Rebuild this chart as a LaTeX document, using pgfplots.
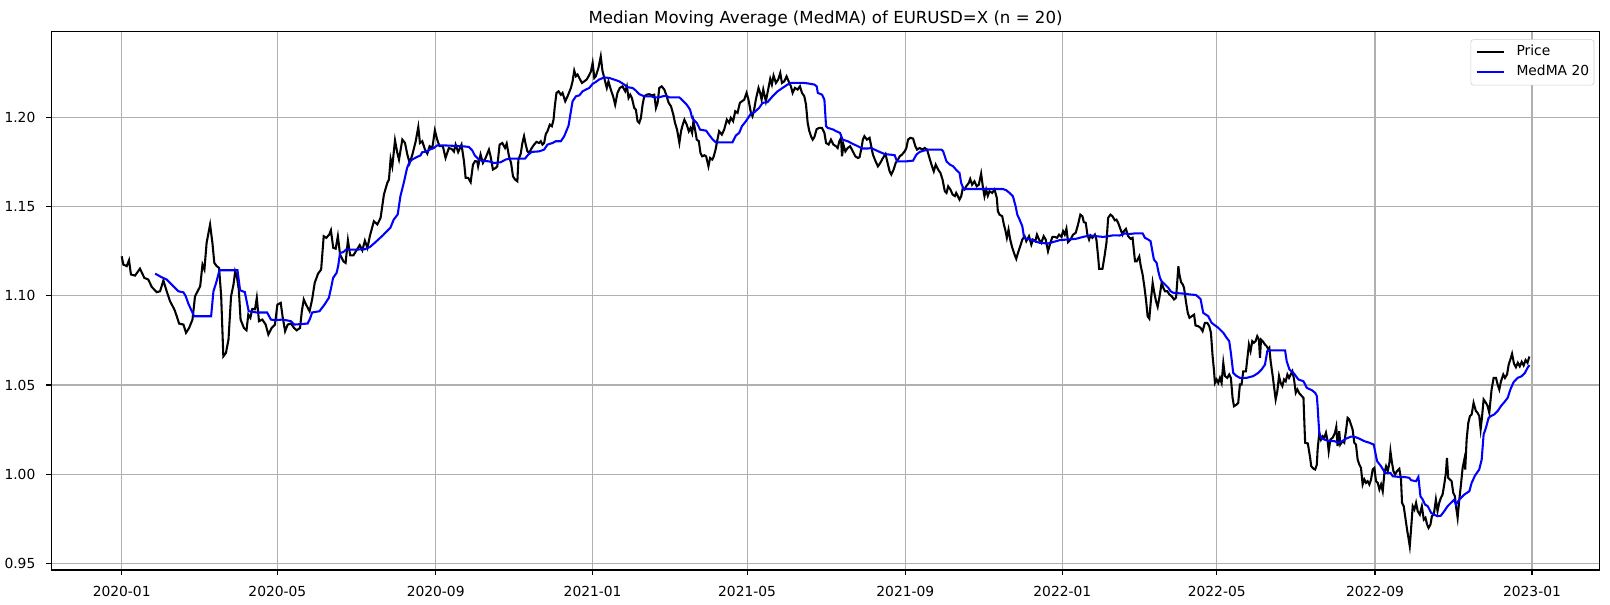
\documentclass[border=0pt]{standalone}
\usepackage{fontspec}
\setmainfont{DejaVu Sans}
\usepackage{pgfplots}
\pgfplotsset{compat=1.18}
\definecolor{gridgray}{HTML}{B0B0B0}
\definecolor{legendgray}{HTML}{CCCCCC}
\begin{document}
\begin{tikzpicture}
\useasboundingbox (-0.513in,-0.35in) rectangle (15.587in,5.70in);
\begin{axis}[
  at={(0,0)}, anchor=south west, scale only axis,
  width=15.485in, height=5.382in,
  xmin=-54.7, xmax=1148.7, ymin=0.9462, ymax=1.2482,
  xtick={0,121,244,366,486,609,731,851,974,1096},
  xticklabels={2020-01,2020-05,2020-09,2021-01,2021-05,2021-09,2022-01,2022-05,2022-09,2023-01},
  ytick={0.95,1.00,1.05,1.10,1.15,1.20},
  yticklabel style={xshift=-4.5pt, /pgf/number format/.cd, fixed, fixed zerofill, precision=2},
  xticklabel style={yshift=-4.5pt},
  /pgf/number format/assume math mode=true,
  tick label style={font=\fontsize{10}{12}\selectfont},
  grid=major, grid style={gridgray, line width=0.8pt},
  tick align=outside, major tick length=3.5pt,
  tick style={black, line width=0.8pt},
  xtick pos=bottom, ytick pos=left,
  axis line style={line width=0.8pt},
  title={Median Moving Average (MedMA) of EURUSD=X (n = 20)},
  title style={font=\fontsize{12}{14.4}\selectfont, anchor=base, inner sep=0pt},
  legend style={at={(1,1)}, anchor=north east, xshift=-4pt, yshift=-5.4pt,
    draw=legendgray, rounded corners=2pt, font=\fontsize{10}{12}\selectfont,
    inner xsep=3.5pt, inner ysep=4.3pt, row sep=4.4pt, column sep=8pt,
    nodes={inner sep=0pt, text height=7.5pt, text depth=2.5pt},
    cells={anchor=west}},
  legend cell align=left,
  legend image code/.code={\draw[#1] (0pt,0pt) -- (20pt,0pt);},
]
\addplot[black, line width=1.5pt] coordinates {
(0,1.1222)(1.3,1.1176)(3.9,1.1167)(5.7,1.1200)(7.2,1.1120)(10.4,1.1114)(14.2,1.1153)(17.6,1.1101)(20.7,1.1092)(23.3,1.1051)
(27.2,1.1021)(29.8,1.1026)(32.4,1.1086)(35,1.1026)(37.6,1.0970)(41,1.0923)(42.8,1.0886)(44.6,1.0845)(48,1.0839)(50,1.0793)
(52.4,1.0820)(55,1.0867)(57,1.0998)(61,1.1054)(62.8,1.1176)(64.3,1.1148)(66,1.1298)(68.7,1.1400)(70.5,1.1298)(72,1.1185)
(74,1.1166)(75.7,1.1157)(77.3,1.1000)(79,1.0661)(81,1.0680)(83,1.0755)(85,1.0998)(86.9,1.1064)(88.2,1.1138)(89.5,1.1110)
(91,1.1036)(92.4,1.0867)(95,1.0820)(97,1.0807)(98.4,1.0895)(100,1.0877)(101.5,1.0927)(103.6,1.0925)(105,1.0989)(106.7,1.0858)
(109.3,1.0867)(111.9,1.0839)(114,1.0783)(116.5,1.0820)(119.1,1.0839)(121,1.0951)(123.6,1.0961)(125,1.0886)(127,1.0802)(129,1.0839)
(131.5,1.0845)(134,1.0820)(136,1.0807)(138.6,1.0820)(140,1.0914)(141.5,1.0980)(143.3,1.0951)(146,1.0914)(148,1.0980)(150,1.1073)
(152.6,1.1125)(155,1.1148)(157,1.1335)(159,1.1326)(161.3,1.1344)(162.6,1.1368)(164.4,1.1270)(166.3,1.1265)(168,1.1335)(169.7,1.1232)
(172.3,1.1194)(174,1.1185)(175.8,1.1312)(177.6,1.1227)(180,1.1227)(182,1.1250)(185,1.1285)(187,1.1255)(189,1.1310)(191,1.1270)
(193,1.1340)(194.6,1.1382)(196,1.1419)(198.7,1.1401)(201.2,1.1438)(203.8,1.1569)(206.4,1.1634)(207.7,1.1653)(209,1.1769)(210.3,1.1727)
(212.4,1.1873)(214.2,1.1802)(215.5,1.1765)(218.1,1.1877)(220.2,1.1858)(222,1.1793)(223.8,1.1746)(225.9,1.1793)(228.5,1.1868)(230.5,1.1948)
(231.8,1.1858)(233.6,1.1868)(235.7,1.1821)(237.5,1.1798)(239.3,1.1840)(241.4,1.1830)(243.4,1.1929)(245.2,1.1877)(247,1.1840)(249.6,1.1840)
(251.7,1.1774)(254.3,1.1830)(256.4,1.1825)(258.2,1.1810)(259.5,1.1849)(261.5,1.1807)(264.1,1.1849)(266,1.1756)(267.3,1.1662)(269.3,1.1662)
(271.2,1.1638)(273,1.1737)(274.6,1.1756)(276.3,1.1755)(277,1.1727)(278.9,1.1793)(280.7,1.1746)(282.8,1.1774)(285.4,1.1821)(286.7,1.1783)
(288.5,1.1709)(290.6,1.1718)(291.9,1.1727)(293.7,1.1849)(295.8,1.1858)(297.9,1.1830)(299.2,1.1855)(301,1.1783)(302.6,1.1746)(304.1,1.1671)
(305.7,1.1653)(307.5,1.1643)(308.3,1.1765)(310.1,1.1797)(311.4,1.1858)(312.7,1.1896)(314,1.1849)(315.3,1.1811)(316.6,1.1802)(318.7,1.1830)
(320.5,1.1849)(322.3,1.1864)(324.4,1.1858)(325.7,1.1868)(327,1.1849)(328.3,1.1858)(329.6,1.1909)(330.9,1.1924)(332.7,1.1961)(334.3,1.1952)
(335.6,1.1989)(336.6,1.2064)(337.9,1.2139)(339.5,1.2148)(341.3,1.2129)(342.6,1.2139)(344.7,1.2092)(346.5,1.2120)(349.1,1.2167)(350.4,1.2204)
(351.7,1.2264)(353,1.2233)(354.3,1.2242)(355.6,1.2223)(357.7,1.2195)(359.5,1.2204)(361.3,1.2214)(362.9,1.2233)(364.7,1.2260)(366,1.2307)
(367.3,1.2223)(368.4,1.2232)(370.5,1.2279)(372.3,1.2344)(373.6,1.2264)(375.7,1.2204)(377,1.2167)(378.3,1.2204)(380.1,1.2158)(381.9,1.2120)
(383.5,1.2073)(385.3,1.2139)(387.1,1.2167)(389.2,1.2176)(391.3,1.2148)(392.6,1.2176)(393.9,1.2111)(395.2,1.2129)(396.5,1.2111)(398.3,1.2055)
(399.6,1.2045)(400.9,1.1980)(402.2,1.1971)(403.5,1.1998)(404.8,1.2073)(406.1,1.2120)(407.9,1.2129)(410,1.2132)(412.1,1.2125)(413.9,1.2129)
(415.2,1.2055)(416.5,1.2083)(417.8,1.2167)(419.6,1.2176)(421.7,1.2158)(423,1.2132)(425.1,1.2083)(426.9,1.2064)(428.7,1.2017)(430,1.1971)
(431.6,1.1933)(433.4,1.1859)(434.7,1.1924)(436,1.1961)(437.3,1.1989)(439.1,1.1961)(440.7,1.1924)(442,1.1942)(443.3,1.1914)(444.3,1.1980)
(445.6,1.1933)(446.9,1.1877)(448.5,1.1868)(449.8,1.1802)(451.1,1.1783)(452.9,1.1789)(454.2,1.1783)(456,1.1727)(457.3,1.1774)(458.9,1.1765)
(459.9,1.1778)(461.5,1.1820)(463,1.1877)(464.3,1.1924)(466.4,1.1905)(468.2,1.1933)(470.3,1.1989)(472.1,1.1971)(473.4,1.1999)(475.2,1.1980)
(476.8,1.2036)(478.6,1.2027)(480.4,1.2083)(482,1.2092)(483.8,1.2101)(485.6,1.2139)(487.1,1.2101)(489,1.2027)(490.2,1.2008)(491.5,1.2045)
(492.8,1.2101)(494.9,1.2167)(496.2,1.2139)(497.3,1.2101)(498.6,1.2158)(500.6,1.2092)(502.4,1.2158)(504,1.2218)(505.3,1.2186)(506.6,1.2236)
(508.4,1.2195)(510.2,1.2214)(511.8,1.2251)(513.1,1.2195)(514.9,1.2204)(516.7,1.2232)(518.3,1.2204)(520.1,1.2176)(521.4,1.2139)(523.2,1.2167)
(525.3,1.2158)(527.1,1.2176)(528.7,1.2139)(530.5,1.2120)(531.8,1.2073)(533.1,1.1971)(534.4,1.1924)(535.7,1.1896)(537,1.1877)(538.3,1.1891)
(540.1,1.1936)(542.2,1.1943)(544.2,1.1943)(546.1,1.1915)(547.4,1.1858)(549.4,1.1849)(551.2,1.1877)(553.1,1.1849)(555.1,1.1840)(556.4,1.1830)
(557.7,1.1868)(559,1.1887)(559.8,1.1783)(560.9,1.1849)(562.4,1.1811)(564.2,1.1830)(566.1,1.1840)(568.2,1.1811)(570.2,1.1783)(572.1,1.1774)
(573.4,1.1778)(574.7,1.1821)(576,1.1877)(577.2,1.1896)(579.1,1.1877)(581.2,1.1887)(582.5,1.1840)(583.8,1.1793)(585.9,1.1755)(587.7,1.1727)
(589.5,1.1746)(591.6,1.1774)(593.6,1.1796)(595.5,1.1737)(596.8,1.1699)(598.1,1.1681)(599.9,1.1709)(601.5,1.1746)(603.3,1.1765)(604.6,1.1783)
(606.4,1.1793)(608.5,1.1811)(609.8,1.1830)(611.1,1.1877)(612.9,1.1887)(615,1.1883)(616.8,1.1840)(618.1,1.1821)(620.2,1.1830)(622.2,1.1821)
(624.1,1.1830)(625.9,1.1821)(627.4,1.1783)(629.3,1.1737)(631.1,1.1699)(632.6,1.1737)(634.5,1.1709)(636.3,1.1690)(637.9,1.1653)(639.7,1.1587)
(641,1.1578)(642.3,1.1615)(644.1,1.1596)(645.7,1.1569)(647.5,1.1560)(648.5,1.1578)(651.1,1.1541)(652.4,1.1559)(653.7,1.1606)(655,1.1597)
(656.3,1.1615)(658.3,1.1634)(659.4,1.1656)(660.9,1.1624)(662.7,1.1643)(664.5,1.1615)(666.1,1.1624)(667.9,1.1686)(669.2,1.1615)(670.5,1.1559)
(671.8,1.1597)(673.1,1.1562)(674.4,1.1587)(676.5,1.1578)(678.3,1.1597)(680.1,1.1550)(680.9,1.1475)(682.2,1.1456)(684.3,1.1447)(685.6,1.1400)
(686.9,1.1363)(687.9,1.1326)(689.2,1.1372)(690.5,1.1316)(692.1,1.1270)(693.9,1.1232)(695.2,1.1208)(696.5,1.1241)(698.3,1.1279)(699.9,1.1316)
(701.7,1.1335)(703,1.1307)(705.1,1.1335)(706.9,1.1288)(708.2,1.1316)(710,1.1307)(711.3,1.1344)(712.9,1.1316)(714.7,1.1298)(716.5,1.1335)
(718.1,1.1316)(719.9,1.1251)(721.7,1.1298)(723.3,1.1331)(725.1,1.1331)(726.9,1.1326)(728.5,1.1344)(730.3,1.1331)(731.6,1.1363)(732.9,1.1344)
(734.2,1.1377)(735.5,1.1302)(737.3,1.1316)(739.4,1.1344)(741.4,1.1354)(743.2,1.1400)(745,1.1456)(746.6,1.1447)(747.7,1.1414)(749.2,1.1410)
(750.5,1.1344)(751.8,1.1316)(752.9,1.1339)(754.4,1.1326)(756.3,1.1344)(757.5,1.1316)(758.8,1.1222)(759.6,1.1152)(762.2,1.1152)(764,1.1232)
(765.3,1.1298)(766.6,1.1438)(768.4,1.1456)(770,1.1447)(771.8,1.1424)(773.1,1.1428)(774.4,1.1410)(776.3,1.1372)(777.8,1.1344)(778.8,1.1363)
(780.4,1.1376)(782.2,1.1335)(784.1,1.1320)(785.6,1.1326)(787.5,1.1194)(788.8,1.1194)(790.8,1.1222)(791.9,1.1170)(793.4,1.1120)(794.7,1.1055)
(796,1.0980)(797.3,1.0886)(798.6,1.0872)(799.9,1.0980)(801.2,1.1073)(802.5,1.1017)(803.8,1.0971)(805.1,1.0939)(806.4,1.0990)(808.2,1.1073)
(809.5,1.1045)(810.8,1.1026)(812.6,1.1026)(814.2,1.1008)(816,1.0998)(817.8,1.0980)(819.4,1.0990)(821.2,1.1166)(822,1.1120)(823.3,1.1077)
(824.6,1.1064)(825.6,1.1045)(827.2,1.0961)(828.5,1.0905)(829.8,1.0877)(831.6,1.0886)(833.4,1.0895)(834.5,1.0834)(836.6,1.0830)(838.4,1.0821)
(840,1.0802)(841.8,1.0849)(843.6,1.0849)(845.2,1.0830)(846.5,1.0793)(847.8,1.0661)(848.8,1.0587)(849.6,1.0512)(850.9,1.0531)(852.2,1.0512)
(853.5,1.0540)(854.8,1.0512)(856.1,1.0624)(857.4,1.0550)(859.2,1.0540)(860.7,1.0559)(862,1.0540)(863.3,1.0428)(864.4,1.0381)(866.4,1.0390)
(867.7,1.0400)(869,1.0503)(870.3,1.0503)(871.6,1.0577)(873.7,1.0577)(874.7,1.0643)(876,1.0727)(877.3,1.0690)(878.6,1.0746)(879.9,1.0737)
(881.2,1.0746)(882.5,1.0774)(883.8,1.0755)(884.6,1.0652)(885.4,1.0755)(886.7,1.0746)(888.5,1.0727)(889.8,1.0718)(891.1,1.0699)(891.9,1.0708)
(892.9,1.0633)(894.5,1.0550)(895.8,1.0475)(896.8,1.0419)(898.1,1.0466)(899.4,1.0550)(900.7,1.0512)(902,1.0494)(903.3,1.0531)(904.6,1.0521)
(905.9,1.0559)(907.2,1.0540)(908.5,1.0559)(909.8,1.0577)(911.1,1.0531)(912.4,1.0456)(913.7,1.0475)(915.3,1.0452)(917.1,1.0438)(918.4,1.0428)
(919.2,1.0269)(919.7,1.0176)(921.8,1.0172)(923.6,1.0091)(924.4,1.0045)(926.2,1.0030)(927.5,1.0026)(928.8,1.0054)(929.4,1.0138)(930.7,1.0232)
(932,1.0194)(933.3,1.0213)(934.6,1.0204)(935.9,1.0232)(937.2,1.0185)(938,1.0129)(939.3,1.0194)(941.1,1.0204)(942.9,1.0232)(943.9,1.0265)
(944.9,1.0157)(946.2,1.0241)(947,1.0166)(948.8,1.0185)(950.1,1.0176)(951.4,1.0241)(952.7,1.0316)(954,1.0307)(955.3,1.0279)(956.6,1.0250)
(957.9,1.0176)(959.2,1.0166)(960.5,1.0082)(961.8,1.0054)(963.1,1.0035)(964.4,0.9942)(965.7,0.9970)(967,0.9951)(968.3,0.9960)(969.6,0.9942)
(970.9,0.9970)(972.2,1.0026)(973.5,1.0035)(974.8,0.9960)(976.1,0.9951)(977.4,0.9914)(978.7,0.9942)(980,0.9904)(981.3,1.0007)(982.6,1.0044)
(983.9,1.0017)(985.2,1.0063)(986,1.0128)(987,1.0073)(988.3,1.0017)(989.6,0.9998)(991.1,1.0017)(992.9,1.0030)(994.2,0.9970)(995,0.9839)
(996.3,0.9820)(997.6,0.9755)(998.9,0.9689)(1000.2,0.9633)(1001,0.9596)(1002,0.9689)(1003.3,0.9820)(1004.6,0.9801)(1005.9,0.9839)(1007.2,0.9792)
(1008.8,0.9773)(1010.4,0.9820)(1011.9,0.9745)(1013.2,0.9755)(1014.5,0.9717)(1015.6,0.9698)(1017.1,0.9717)(1018.2,0.9764)(1019.7,0.9773)(1021.3,0.9857)
(1022.6,0.9792)(1023.9,0.9839)(1025.2,0.9867)(1026.5,0.9885)(1027.8,0.9942)(1029.1,1.0007)(1029.9,1.0091)(1030.9,0.9979)(1032.2,0.9970)(1033.5,0.9961)
(1034.8,0.9895)(1036.1,0.9876)(1037.1,0.9811)(1038.2,0.9755)(1039.5,0.9857)(1040.8,0.9942)(1042.1,1.0035)(1043.4,1.0082)(1044.1,1.0026)(1045.2,1.0194)
(1046.5,1.0288)(1047.8,1.0326)(1049.1,1.0335)(1050.6,1.0400)(1052.4,1.0354)(1053.7,1.0344)(1055,1.0326)(1056.1,1.0251)(1057.1,1.0316)(1058.4,1.0419)
(1060.2,1.0400)(1061.5,1.0382)(1062.8,1.0344)(1064.6,1.0475)(1066.2,1.0540)(1068,1.0540)(1069.3,1.0503)(1070.6,1.0475)(1071.9,1.0521)(1073.7,1.0559)
(1075,1.0540)(1076.6,1.0559)(1077.9,1.0615)(1079.2,1.0643)(1080.5,1.0675)(1082,1.0620)(1083.5,1.0600)(1085,1.0625)(1086.5,1.0605)(1088,1.0630)
(1089.5,1.0610)(1091,1.0640)(1092.5,1.0625)(1094,1.0660)
};
\addlegendentry{Price}
\addplot[blue, line width=1.5pt] coordinates {
(26,1.1125)(31,1.1105)(35,1.1092)(37.6,1.1073)(41.5,1.1045)(44,1.1026)(48,1.1020)(49.8,1.0998)(51.8,1.0957)(54.5,1.0914)
(56.3,1.0886)(69.5,1.0886)(71.3,1.1026)(73.4,1.1073)(76,1.1144)(90,1.1144)(92,1.1032)(95.7,1.1021)(98.7,1.0914)(105,1.0907)
(113,1.0907)(116,1.0867)(119,1.0864)(124.8,1.0867)(129,1.0862)(131.5,1.0858)(134,1.0839)(144.5,1.0845)(146.3,1.0871)(148,1.0907)
(153.7,1.0914)(157.6,1.0951)(161,1.0989)(163,1.1054)(164.3,1.1101)(167,1.1129)(168.2,1.1166)(169.7,1.1241)(172.3,1.1246)(174.3,1.1260)
(182.6,1.1260)(189,1.1262)(193,1.1275)(197,1.1300)(203,1.1340)(208.8,1.1382)(211.4,1.1428)(214.5,1.1457)(216.6,1.1559)(219.2,1.1634)
(221.8,1.1718)(223.6,1.1750)(225.7,1.1765)(229.6,1.1780)(232.2,1.1788)(233.5,1.1806)(237.5,1.1810)(239.3,1.1821)(242.6,1.1830)(245.2,1.1845)
(249.1,1.1845)(264.6,1.1840)(269.8,1.1836)(272.4,1.1817)(274.4,1.1788)(277.6,1.1765)(280.2,1.1758)(285.4,1.1755)(289.3,1.1746)(294.5,1.1750)
(298.4,1.1765)(301,1.1770)(313.4,1.1770)(316,1.1793)(318.7,1.1808)(324.4,1.1811)(328.3,1.1821)(330.9,1.1849)(334.8,1.1858)(337.4,1.1868)
(341.3,1.1868)(343.9,1.1896)(347.3,1.1956)(349.1,1.2036)(350.4,1.2092)(353,1.2120)(355.6,1.2125)(358.2,1.2148)(360.8,1.2158)(363.4,1.2167)
(366,1.2190)(368.4,1.2200)(371,1.2214)(374.9,1.2226)(378.8,1.2223)(382.7,1.2214)(386.6,1.2204)(390.5,1.2186)(393.1,1.2171)(397,1.2167)
(399.6,1.2152)(402.2,1.2132)(406.1,1.2120)(411.3,1.2120)(413.9,1.2114)(417.8,1.2114)(420.4,1.2120)(423,1.2123)(425.6,1.2114)(433.4,1.2114)
(436.6,1.2092)(439.1,1.2073)(441.7,1.2045)(443.3,1.1999)(445.1,1.1984)(446.9,1.1971)(449.5,1.1933)(454.2,1.1927)(456.8,1.1901)(459.4,1.1877)
(461.7,1.1862)(474.7,1.1862)(477.3,1.1900)(479.9,1.1915)(482,1.1952)(485.1,1.1980)(489,1.2023)(491.5,1.2030)(495.4,1.2055)(498,1.2083)
(501.9,1.2087)(505.8,1.2120)(509.7,1.2148)(513.6,1.2167)(517.5,1.2186)(520.1,1.2195)(530.5,1.2195)(534.4,1.2191)(538.3,1.2186)(540.1,1.2176)
(541,1.2139)(544.3,1.2129)(546.1,1.2101)(547.4,1.1952)(548.7,1.1943)(553.1,1.1933)(555.2,1.1924)(558.2,1.1915)(560.3,1.1877)(564.2,1.1868)
(568.2,1.1853)(572.1,1.1840)(575.4,1.1827)(579.8,1.1827)(582.5,1.1830)(585.1,1.1821)(589,1.1808)(592.9,1.1796)(596.8,1.1793)(600.7,1.1790)
(602.5,1.1755)(609.8,1.1755)(615,1.1759)(617.6,1.1793)(620.2,1.1808)(623.3,1.1815)(626.7,1.1821)(637.1,1.1821)(638.4,1.1811)(641,1.1755)
(643.6,1.1737)(646.2,1.1727)(648.8,1.1705)(651.1,1.1690)(652.4,1.1634)(654.2,1.1600)(684.8,1.1600)(687.4,1.1593)(690,1.1578)(692.6,1.1559)
(694.7,1.1503)(696,1.1456)(697.8,1.1428)(699.9,1.1391)(701.2,1.1331)(703,1.1320)(706.9,1.1316)(709.5,1.1307)(713.4,1.1298)(719.9,1.1294)
(723.8,1.1302)(729,1.1313)(734.2,1.1316)(741.4,1.1320)(747.1,1.1331)(752.3,1.1339)(757.5,1.1335)(762.7,1.1331)(766.6,1.1335)(770.5,1.1340)
(775.7,1.1339)(779.6,1.1351)(782.2,1.1346)(787.5,1.1351)(793.4,1.1351)(795.2,1.1326)(797.8,1.1316)(799.6,1.1307)(801.2,1.1241)(802.2,1.1204)
(804.3,1.1185)(805.6,1.1138)(806.9,1.1101)(808.2,1.1082)(810.8,1.1064)(813.4,1.1045)(815.2,1.1026)(817.3,1.1017)(825.1,1.1013)(830.3,1.1008)
(834.9,1.1005)(838.4,1.0983)(840.5,1.0905)(844.4,1.0886)(847,1.0849)(849.6,1.0835)(852.2,1.0821)(856.1,1.0793)(858.7,1.0765)(860.7,1.0746)
(862,1.0680)(863.8,1.0568)(865.9,1.0553)(869,1.0540)(874.2,1.0540)(879.4,1.0550)(883.3,1.0568)(885.9,1.0587)(888.5,1.0615)(890.3,1.0690)
(892.4,1.0694)(904.1,1.0694)(905.4,1.0633)(907.5,1.0587)(910.6,1.0568)(914.5,1.0531)(918.4,1.0521)(921,1.0484)(924.9,1.0471)(927.5,1.0456)
(928.8,1.0438)(929.4,1.0381)(930,1.0306)(930.7,1.0232)(932,1.0204)(934.6,1.0194)(938.5,1.0185)(942.4,1.0185)(945.5,1.0176)(948.8,1.0185)
(951.4,1.0199)(955.3,1.0210)(957.9,1.0210)(961.8,1.0199)(965.7,1.0185)(969.6,1.0176)(973,1.0166)(974.3,1.0119)(975.6,1.0073)(978.7,1.0044)
(981.8,1.0007)(986,1.0007)(987.8,0.9988)(993,0.9984)(996.8,0.9984)(1000.7,0.9979)(1002,0.9966)(1005.9,0.9960)(1007.7,0.9984)(1009.3,0.9876)
(1011.1,0.9857)(1012.9,0.9829)(1015,0.9820)(1017.6,0.9783)(1019.7,0.9773)(1022.6,0.9764)(1025.2,0.9767)(1027.8,0.9792)(1030.4,0.9820)(1033,0.9839)
(1035.6,0.9857)(1036.9,0.9829)(1039.5,0.9857)(1043.4,0.9885)(1047.3,0.9904)(1049.1,0.9951)(1051.7,0.9992)(1055,1.0026)(1056.9,1.0082)(1058.4,1.0222)
(1060.2,1.0260)(1062.3,1.0316)(1064.1,1.0326)(1066.7,1.0335)(1069.3,1.0354)(1071.9,1.0382)(1074.5,1.0404)(1077.1,1.0428)(1079.2,1.0475)(1081.7,1.0516)
(1084.8,1.0540)(1087.9,1.0549)(1090.5,1.0568)(1092.5,1.0596)(1094,1.0612)
};
\addlegendentry{MedMA 20}
\end{axis}
\end{tikzpicture}
\end{document}
